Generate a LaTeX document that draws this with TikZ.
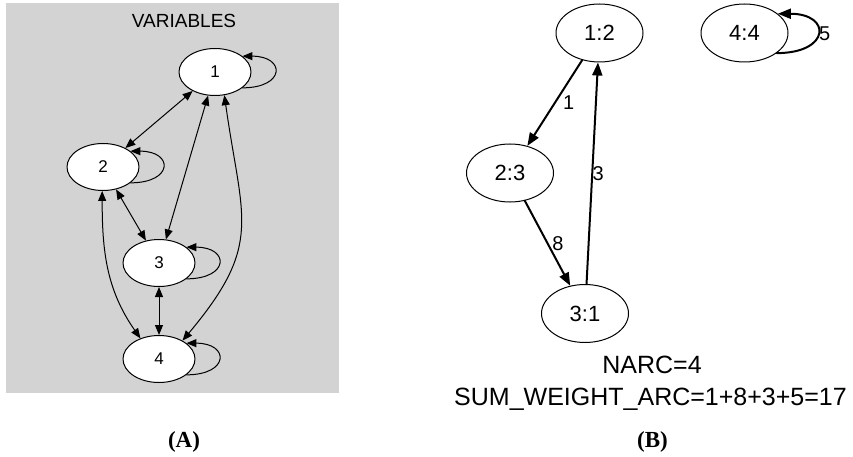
\documentclass[tikz,border=0pt]{standalone}
\usepackage{fontspec}
\setmainfont{Liberation Sans}
\newfontfamily\capfont{Liberation Serif}
\usepackage{xcolor}
\usepackage{tikz}
\usetikzlibrary{arrows.meta,shapes.geometric}
\definecolor{clustergray}{HTML}{D3D3D3}

\begin{document}
\begin{tikzpicture}[x=1pt,y=1pt,line cap=round,line join=round,
  vnode/.style={ellipse,draw,fill=white,line width=1pt,minimum width=72pt,minimum height=47pt,inner sep=0pt,font=\fontsize{17}{17}\selectfont},
  wnode/.style={ellipse,draw,line width=1pt,minimum width=87pt,minimum height=58pt,inner sep=0pt,font=\fontsize{22}{22}\selectfont},
  arr/.style={line width=1pt,{Triangle[length=10pt,width=8pt]}-{Triangle[length=10pt,width=8pt]}},
  loopa/.style={line width=1pt,-{Triangle[length=10pt,width=8pt]}},
  warr/.style={line width=2pt,-{Triangle[length=13pt,width=10pt]}},
  wlbl/.style={font=\fontsize{20}{20}\selectfont,inner sep=0pt},
  caption/.style={font=\capfont\bfseries\fontsize{23}{23}\selectfont}]
\useasboundingbox(0,0)rectangle(853,-457);
\fill[clustergray](6,-3)rectangle(339,-393);
\node[font=\fontsize{19}{19}\selectfont,anchor=base]at(184,-28){VARIABLES};
\node[vnode](v1)at(215,-72){1};
\node[vnode](v2)at(103,-167){2};
\node[vnode](v3)at(159,-263){3};
\node[vnode](v4)at(159,-359){4};
\foreach \n in {v1,v2,v3,v4}
  \draw[loopa](\n.-30)to[out=0,in=0,looseness=3.5](\n.30);
\draw[arr](v1)--(v2);
\draw[arr](v1)--(v3);
\draw[arr](v2)--(v3);
\draw[arr](v3)--(v4);
\draw[arr](v2.-92)to[out=-90,in=125](v4.132);
\draw[arr](v1.-68)to[out=-82,in=50,looseness=1.3](v4.38);
\node[caption](capA)at(184,-442){(A)};
\node[wnode](b12)at(599.5,-33){1:2};
\node[wnode](b44)at(744.5,-33){4:4};
\node[wnode](b23)at(510,-173){2:3};
\node[wnode](b31)at(585,-313.5){3:1};
\draw[warr](b12)--node[wlbl,xshift=14pt]{1}(b23);
\draw[warr](b23)--node[wlbl,xshift=10.5pt]{8}(b31);
\draw[warr](b31)--node[wlbl,xshift=6pt]{3}(b12);
\draw[warr](b44.-32)to[out=0,in=0,looseness=3.5]node[wlbl,xshift=7pt]{5}(b44.30);
\node[font=\fontsize{25}{25}\selectfont,anchor=base](narc)at(652,-373){NARC=4};
\node[font=\fontsize{25}{25}\selectfont,anchor=base](sumw)at(650.5,-405){SUM\_WEIGHT\_ARC=1+8+3+5=17};
\node[caption](capB)at(652.5,-442){(B)};
\end{tikzpicture}
\end{document}
